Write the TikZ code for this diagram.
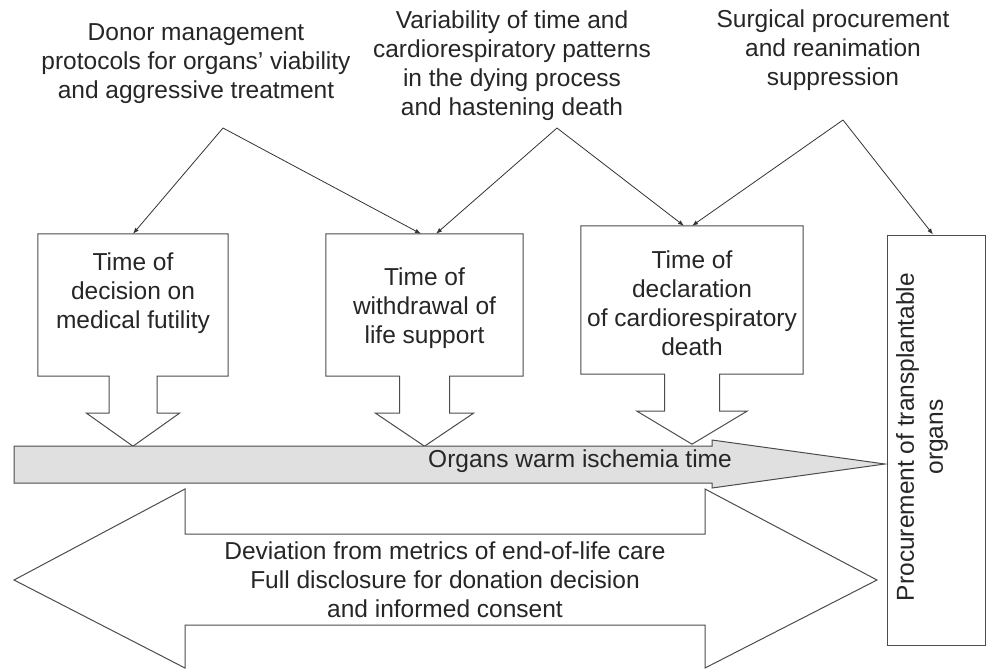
\documentclass[tikz,border=0pt]{standalone}
\usepackage{fontspec}
\setmainfont{Liberation Sans}
\usepackage{tikz}
\usetikzlibrary{calc}
\usetikzlibrary{arrows.meta}

\newcommand{\downcallout}[3]{%
	\draw[outline] (#1.north west) -- (#1.north east) -- (#1.south east)
		-- ($(#1.south)+(#2,0)$) -- ($(#1.south)+(#2,37)$) -- ($(#1.south)+(#3,37)$)
		-- ($(#1.south)+(0,70)$) -- ($(#1.south)+(-#3,37)$) -- ($(#1.south)+(-#2,37)$)
		-- ($(#1.south)+(-#2,0)$) -- (#1.south west) -- cycle;}

\begin{document}
\begin{tikzpicture}[x=1pt, y=-1pt,
	every node/.style={font=\fontsize{24.5}{29}\selectfont, text=black!85},
	note/.style={align=center},
	frame/.style 2 args={minimum width=#1, minimum height=#2, inner sep=0pt},
	outline/.style={draw=black!70, line width=1pt, fill=white},
	link/.style={draw=black!80, line width=0.8pt, -{Latex[length=6pt, width=4.5pt]}}]
	\useasboundingbox (0,0) rectangle (986,670);

	\node[note] (donor) at (196,64) {Donor management\\protocols for organs' viability\\and aggressive treatment};
	\node[note] (variability) at (512,66) {Variability of time and\\cardiorespiratory patterns\\in the dying process\\and hastening death};
	\node[note] (surgical) at (833,50) {Surgical procurement\\and reanimation\\suppression};
	\coordinate (donorpeak) at (223,128);
	\coordinate (variabilitypeak) at (557,128);
	\coordinate (surgicalpeak) at (843,120);

	\node[frame={190pt}{142pt}] (futility) at (133,305) {};
	\node[frame={197pt}{142pt}] (withdrawal) at (424.5,305) {};
	\node[frame={222pt}{148pt}] (declaration) at (692,300) {};
	\node[frame={98pt}{410pt}, outline] (procurement) at (936,440) {};

	\downcallout{futility}{24}{46.5}
	\downcallout{withdrawal}{25}{49}
	\downcallout{declaration}{27.5}{55}

	\node[note] (futilitytext) at (133,293) {Time of\\decision on\\medical futility};
	\node[note] (withdrawaltext) at (424.5,308) {Time of\\withdrawal of\\life support};
	\node[note] (declarationtext) at (692,303) {Time of\\declaration\\of cardiorespiratory\\death};
	\node[note, rotate=90] (procurementtext) at (922,437) {Procurement of transplantable\\organs};

	\draw[outline, fill=black!12] (14,446) -- (712,446) -- (712,440) -- (885,464) -- (712,488) -- (712,483) -- (14,483) -- cycle;
	\node (ischemia) at (580,461) {Organs warm ischemia time};

	\draw[outline] (14,580) -- (185,489) -- (185,534) -- (705,534) -- (705,489) -- (877,580)
		-- (705,668) -- (705,625) -- (185,625) -- (185,668) -- cycle;
	\node[note] (deviation) at (445,580) {Deviation from metrics of end-of-life care\\Full disclosure for donation decision\\and informed consent};

	\draw[link] (donorpeak) -- (futility.north);
	\draw[link] (donorpeak) -- ([xshift=-3.5pt]withdrawal.north);
	\draw[link] (variabilitypeak) -- ([xshift=11.5pt]withdrawal.north);
	\draw[link] (variabilitypeak) -- ([xshift=-8pt]declaration.north);
	\draw[link] (surgicalpeak) -- (declaration.north);
	\draw[link] (surgicalpeak) -- ([xshift=-3pt]procurement.north);
\end{tikzpicture}
\end{document}
